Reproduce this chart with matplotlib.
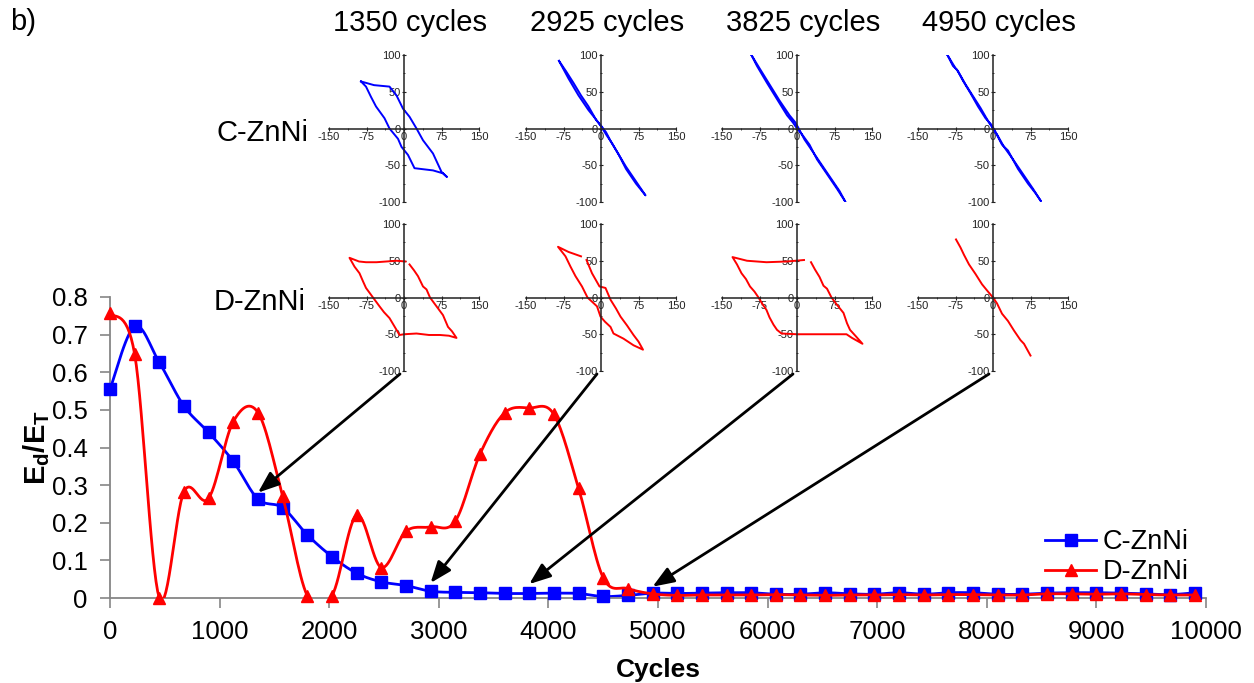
"""Energy ratio vs cycles with hysteresis loop insets."""

import matplotlib
matplotlib.use("Agg")
import matplotlib.pyplot as plt
import numpy as np
from matplotlib.ticker import MultipleLocator

plt.rcParams["font.family"] = ["Liberation Sans", "DejaVu Sans"]
plt.rcParams["mathtext.fontset"] = "custom"
plt.rcParams["mathtext.rm"] = "Liberation Sans"
plt.rcParams["mathtext.bf"] = "Liberation Sans:bold"
plt.rcParams["axes.unicode_minus"] = False

W, H = 1254, 683
BLUE = "#0000FF"
RED = "#FF0000"
GRAY = "#868686"

# ---- main series -------------------------------------------------------
cycles = [0, 225, 450, 675, 900, 1125, 1350, 1575, 1800, 2025, 2250, 2475,
          2700, 2925, 3150, 3375, 3600, 3825, 4050, 4275, 4500, 4725, 4950,
          5175, 5400, 5625, 5850, 6075, 6300, 6525, 6750, 6975, 7200, 7425,
          7650, 7875, 8100, 8325, 8550, 8775, 9000, 9225, 9450, 9675, 9900]
c_znni = [0.555, 0.722, 0.626, 0.510, 0.440, 0.363, 0.263, 0.240, 0.168,
          0.110, 0.066, 0.043, 0.033, 0.018, 0.015, 0.014, 0.012, 0.012,
          0.013, 0.012, 0.004, 0.007, 0.013, 0.012, 0.013, 0.014, 0.014,
          0.010, 0.010, 0.014, 0.011, 0.010, 0.014, 0.010, 0.014, 0.014,
          0.010, 0.010, 0.013, 0.014, 0.014, 0.013, 0.011, 0.009, 0.014]
d_znni = [0.757, 0.648, 0.000, 0.283, 0.265, 0.469, 0.493, 0.271, 0.006,
          0.006, 0.220, 0.081, 0.177, 0.189, 0.204, 0.382, 0.492, 0.505,
          0.488, 0.292, 0.054, 0.025, 0.011, 0.007, 0.008, 0.008, 0.008,
          0.009, 0.008, 0.007, 0.008, 0.008, 0.009, 0.008, 0.009, 0.009,
          0.008, 0.008, 0.011, 0.011, 0.010, 0.011, 0.009, 0.008, 0.008]

inset_cycles = [1350, 2925, 3825, 4950]
arrow_tip_y = [0.28, 0.04, 0.037, 0.03]

# ---- hysteresis loops (strain %, stress MPa) ----------------------------
c1350_x = [-86, -60, -29, -15, -2, 11, 25, 38, 58, 75, 86, 78, 58, 21, 8,
           -5, -12, -29, -39, -56, -66, -76, -86]
c1350_y = [64, 59, 57, 45, 27, 16, 0, -16, -34, -59, -66, -61, -57, -54,
           -36, -25, -14, 0, 14, 30, 43, 57, 64]
c2925_x = [-84, -70, -55, -40, -25, -10, 0, 10, 20, 35, 50, 70, 89, 70, 50,
           35, 22, 12, 0, -12, -25, -45, -65, -84]
c2925_y = [92, 78, 62, 45, 30, 12, 4, -5, -18, -35, -55, -75, -91, -72, -52,
           -35, -20, -10, 3, 14, 25, 45, 68, 92]
c3825_x = [-92, -75, -55, -35, -15, -3, 5, 15, 25, 45, 65, 85, 97, 80, 60,
           40, 25, 10, 0, -8, -20, -40, -60, -80, -92]
c3825_y = [101, 82, 60, 38, 18, 8, -2, -15, -25, -45, -65, -85, -100, -82,
           -62, -42, -22, -8, 0, 8, 18, 40, 62, 85, 101]
c4950_x = [-92, -80, -72, -60, -45, -30, -15, -3, 5, 18, 30, 50, 70, 85, 96,
           80, 60, 40, 22, 8, 0, -8, -25, -40, -55, -70, -75, -92]
c4950_y = [101, 85, 80, 65, 48, 30, 14, 5, -5, -22, -30, -55, -75, -88, -99,
           -82, -62, -42, -25, -8, 0, 8, 28, 44, 60, 78, 82, 101]

d1350_x = [11, 20, 28, 38, 45, 52, 65, 78, 88, 96, 105, 90, 72, 50, 25, 0,
           -9, -15, -29, -40, -49, -62, -76, -82, -89, -99, -109, -90, -76,
           -55, -35, -15, 3]
d1350_y = [45, 37, 29, 15, 11, 0, -12, -24, -40, -46, -55, -52, -51, -51,
           -49, -50, -51, -44, -28, -20, -12, 0, 13, 22, 33, 42, 54, 49, 48,
           48, 49, 50, 49]
d2925_x = [-29, -18, -3, 9, 19, 30, 39, 52, 65, 75, 84, 65, 45, 25, 19, 8,
           -1, -8, -27, -38, -51, -61, -71, -86, -65, -40]
d2925_y = [51, 33, 15, 13, -3, -15, -26, -38, -51, -60, -71, -65, -56, -49,
           -40, -33, -26, -12, 0, 15, 29, 42, 56, 69, 62, 56]
d3825_x = [28, 36, 45, 53, 60, 69, 80, 93, 100, 106, 118, 131, 110, 99, 60,
           39, 0, -31, -40, -47, -55, -61, -70, -77, -85, -94, -102, -111,
           -120, -129, -100, -61, -20, 14]
d3825_y = [48, 38, 28, 16, 12, 0, -10, -21, -35, -44, -53, -63, -55, -50,
           -50, -50, -50, -49, -44, -37, -27, -17, -8, 0, 8, 15, 25, 33, 45,
           55, 50, 48, 49, 51]
d4950_x = [-74, -65, -58, -48, -35, -22, -10, 0, 8, 18, 30, 42, 55, 62, 75]
d4950_y = [79, 68, 58, 45, 32, 18, 8, 0, -8, -22, -32, -45, -58, -63, -79]

c_loops = [(c1350_x, c1350_y), (c2925_x, c2925_y),
           (c3825_x, c3825_y), (c4950_x, c4950_y)]
d_loops = [(d1350_x, d1350_y), (d2925_x, d2925_y),
           (d3825_x, d3825_y), (d4950_x, d4950_y)]

# inset placement in pixels: x extent of the -150..150 axis, y extent of 100..-100
INSET_X = [(329, 479), (526, 676), (722, 872), (918, 1068)]
INSET_Y = [(55, 202), (224, 371)]


def smooth(x, y, n=16):
    """Excel-like smoothed line through the points (Bezier, tension 1/6)."""
    p = np.column_stack([x, y]).astype(float)
    pts = [p[0]]
    t = np.linspace(0, 1, n)[1:, None]
    for i in range(len(p) - 1):
        p0 = p[i - 1] if i > 0 else p[i]
        p1, p2 = p[i], p[i + 1]
        p3 = p[i + 2] if i + 2 < len(p) else p[i + 1]
        c1 = p1 + (p2 - p0) / 6
        c2 = p2 - (p3 - p1) / 6
        seg = ((1 - t) ** 3) * p1 + 3 * ((1 - t) ** 2) * t * c1 \
            + 3 * (1 - t) * t ** 2 * c2 + t ** 3 * p2
        pts.extend(seg)
    pts = np.array(pts)
    return pts[:, 0], pts[:, 1]


def px_rect(x0, x1, y0, y1):
    return [x0 / W, 1 - y1 / H, (x1 - x0) / W, (y1 - y0) / H]


fig = plt.figure(figsize=(W / 100, H / 100), dpi=100)
ax = fig.add_axes(px_rect(110, 1206, 297, 598))
ax.patch.set_alpha(0)

bx, by = smooth(cycles, c_znni)
rx, ry = smooth(cycles, d_znni)
ax.plot(bx, by, color=BLUE, lw=2, zorder=2)
ax.plot(cycles, c_znni, "s", color=BLUE, ms=8.5, zorder=3, clip_on=False)
ax.plot(rx, ry, color=RED, lw=2, zorder=4)
ax.plot(cycles, d_znni, "^", color=RED, ms=9, zorder=5, clip_on=False)
ax.plot([], [], "-s", color=BLUE, lw=2, ms=8, label="C-ZnNi")
ax.plot([], [], "-^", color=RED, lw=2, ms=8, label="D-ZnNi")

ax.set_xlim(0, 10000)
ax.set_ylim(0, 0.8)
ax.set_xticks(range(0, 10001, 1000))
ax.set_yticks([0, 0.1, 0.2, 0.3, 0.4, 0.5, 0.6, 0.7, 0.8],
              ["0", "0.1", "0.2", "0.3", "0.4", "0.5", "0.6", "0.7", "0.8"])
ax.tick_params(labelsize=18.5, colors=GRAY, labelcolor="black", length=7,
               width=1.2)
ax.tick_params(axis="x", pad=9)
ax.tick_params(axis="y", pad=9)
for side in ("top", "right"):
    ax.spines[side].set_visible(False)
for side in ("left", "bottom"):
    ax.spines[side].set_color(GRAY)
    ax.spines[side].set_linewidth(1.3)
ax.set_xlabel("Cycles", fontsize=19, fontweight="bold", labelpad=10)
ax.set_ylabel(r"$\mathbf{E_d/E_T}$", fontsize=21, labelpad=0)
ax.legend(loc="upper left", bbox_to_anchor=(0.853, 0.228), frameon=False,
          fontsize=19.5, handlelength=1.9, handletextpad=0.25,
          labelspacing=0.15, borderpad=0, borderaxespad=0)

# ---- insets --------------------------------------------------------------
for row, loops, color in ((0, c_loops, BLUE), (1, d_loops, RED)):
    for col, (lx, ly) in enumerate(loops):
        ia = fig.add_axes(px_rect(*INSET_X[col], *INSET_Y[row]))
        ia.patch.set_alpha(0)
        ia.plot(lx, ly, color=color, lw=1.4)
        ia.set_xlim(-150, 150)
        ia.set_ylim(-100, 100)
        for side in ("top", "right"):
            ia.spines[side].set_visible(False)
        for side in ("left", "bottom"):
            ia.spines[side].set_position("zero")
            ia.spines[side].set_color("#222222")
            ia.spines[side].set_linewidth(1.1)
        ia.set_xticks([-150, -75, 0, 75, 150])
        ia.set_yticks([-100, -50, 0, 50, 100])
        ia.xaxis.set_minor_locator(MultipleLocator(37.5))
        ia.yaxis.set_minor_locator(MultipleLocator(25))
        ia.tick_params(which="major", length=3, width=0.8, direction="inout",
                       labelsize=8, colors="#222222", pad=1)
        ia.tick_params(which="minor", length=2, width=0.6, direction="inout",
                       colors="#222222")

        if row == 1:
            x_axis_px = (INSET_X[col][0] + INSET_X[col][1]) / 2
            ax.annotate("", xy=(inset_cycles[col], arrow_tip_y[col]),
                        xycoords="data",
                        xytext=((x_axis_px - 4) / W, 1 - 374 / H),
                        textcoords="figure fraction",
                        arrowprops=dict(arrowstyle="-|>,head_length=1.3,head_width=0.5",
                                        color="black", lw=2,
                                        shrinkA=0, shrinkB=0),
                        zorder=6)

for col, cyc in enumerate(inset_cycles):
    cx = (INSET_X[col][0] + INSET_X[col][1]) / 2 + 6
    fig.text(cx / W, 1 - 23 / H, f"{cyc} cycles", ha="center", va="center",
             fontsize=21)

fig.text(308 / W, 1 - 133 / H, "C-ZnNi", ha="right", va="center", fontsize=21)
fig.text(306 / W, 1 - 302 / H, "D-ZnNi", ha="right", va="center", fontsize=21)
fig.text(10 / W, 1 - 22 / H, "b)", ha="left", va="center", fontsize=21)

fig.savefig("out.png", dpi=100)
